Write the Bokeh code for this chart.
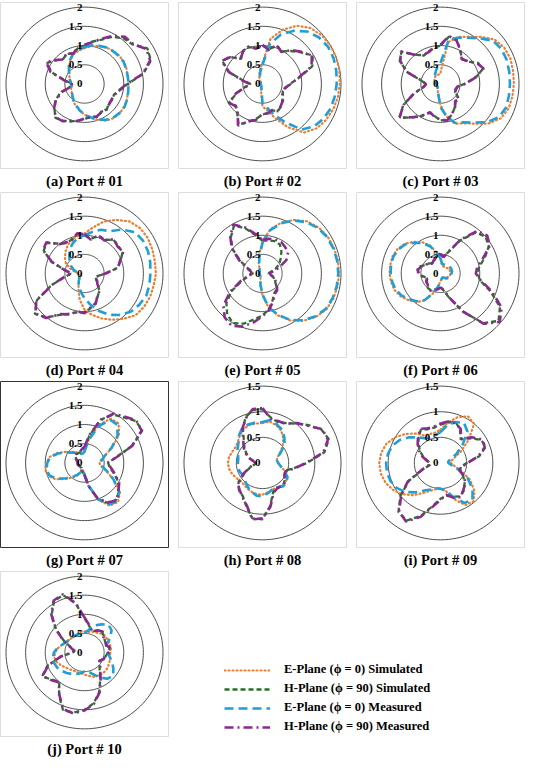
import numpy as np
from bokeh.plotting import figure
from bokeh.models import Legend, LegendItem, Range1d
from bokeh.layouts import column, row
from bokeh.embed import file_html
from bokeh.resources import INLINE
from bokeh.core.properties import value

# angles (degrees, clockwise from top) at which the patterns were read
ANGLES = list(range(0, 360, 10))

# ---- Port 01 ----
ES_a = [0.93,1.0,1.05,1.1,1.13,1.15,1.16,1.14,1.12,1.12,1.13,1.15,1.17,1.18,1.16,1.1,1.0,0.9,0.8,0.7,0.62,0.55,0.48,0.42,0.38,0.36,0.35,0.35,0.37,0.4,0.45,0.5,0.6,0.72,0.82,0.88]
EM_a = [0.96,1.02,1.06,1.1,1.12,1.14,1.15,1.13,1.12,1.12,1.13,1.16,1.18,1.17,1.14,1.08,0.98,0.88,0.8,0.7,0.6,0.53,0.46,0.41,0.37,0.35,0.34,0.34,0.36,0.41,0.46,0.52,0.62,0.73,0.84,0.9]
HS_a = [1.0,1.12,1.22,1.42,1.55,1.6,1.85,1.8,1.52,1.1,0.92,0.8,0.82,0.8,0.88,0.84,0.92,0.86,0.92,0.96,1.04,1.1,1.15,1.0,0.86,0.65,0.35,0.3,0.5,0.9,1.1,0.95,0.85,0.9,0.85,0.95]
HM_a = [1.02,1.1,1.25,1.45,1.6,1.62,1.82,1.78,1.5,1.08,0.9,0.82,0.8,0.82,0.86,0.86,0.9,0.88,0.9,0.98,1.02,1.12,1.13,1.02,0.84,0.62,0.33,0.32,0.52,0.92,1.12,0.97,0.83,0.92,0.84,0.97]
# ---- Port 02 ----
ES_b = [0.55,1.2,1.5,1.75,1.9,1.97,2.0,2.0,1.99,1.97,1.95,1.92,1.87,1.8,1.65,1.3,0.95,0.7,0.58,0.2,0.1,0.07,0.06,0.06,0.06,0.06,0.06,0.06,0.06,0.06,0.06,0.07,0.1,0.15,0.25,0.38]
EM_b = [0.5,1.05,1.37,1.6,1.78,1.88,1.93,1.93,1.91,1.89,1.87,1.85,1.8,1.72,1.55,1.15,0.85,0.62,0.5,0.15,0.08,0.06,0.05,0.05,0.05,0.05,0.05,0.05,0.05,0.05,0.05,0.06,0.08,0.12,0.2,0.32]
HS_b = [1.0,0.92,1.06,0.98,1.12,1.28,1.48,1.35,0.95,0.7,0.6,0.55,0.6,0.66,0.75,0.8,0.74,0.76,0.8,0.92,1.05,1.22,1.0,0.88,1.0,0.7,0.45,0.3,0.5,0.9,1.18,1.1,0.85,1.0,1.02,0.95]
HM_b = [1.02,0.9,1.08,0.96,1.15,1.3,1.45,1.33,0.93,0.72,0.58,0.57,0.58,0.68,0.73,0.82,0.72,0.78,0.78,0.95,1.03,1.25,0.98,0.9,0.98,0.72,0.43,0.32,0.52,0.92,1.2,1.08,0.87,0.98,1.04,0.93]
# ---- Port 03 ----
ES_c = [0.3,1.1,1.3,1.42,1.6,1.8,1.88,1.9,1.88,1.87,1.86,1.85,1.78,1.6,1.35,1.18,1.1,0.85,0.55,0.3,0.2,0.15,0.12,0.1,0.1,0.1,0.1,0.1,0.12,0.15,0.18,0.2,0.22,0.25,0.25,0.25]
EM_c = [0.55,1.12,1.28,1.39,1.55,1.75,1.8,1.8,1.78,1.77,1.77,1.78,1.72,1.55,1.31,1.15,1.08,0.85,0.6,0.3,0.18,0.14,0.12,0.1,0.1,0.1,0.1,0.1,0.1,0.12,0.14,0.18,0.22,0.28,0.35,0.45]
HS_c = [1.0,1.25,1.22,1.0,0.86,0.9,1.1,1.15,0.9,0.6,0.45,0.4,0.45,0.6,0.6,0.72,0.85,0.95,0.95,0.85,0.8,0.95,1.15,1.35,1.1,0.7,0.45,0.35,0.5,0.9,1.2,1.3,1.0,0.85,0.9,0.95]
HM_c = [1.02,1.27,1.2,1.02,0.84,0.92,1.08,1.17,0.88,0.62,0.43,0.42,0.43,0.62,0.58,0.74,0.83,0.97,0.93,0.87,0.78,0.97,1.13,1.37,1.08,0.72,0.43,0.37,0.48,0.92,1.18,1.32,0.98,0.87,0.88,0.97]
# ---- Port 04 ----
ES_d = [1.05,1.22,1.45,1.62,1.78,1.85,1.86,1.84,1.82,1.82,1.79,1.78,1.75,1.7,1.55,1.4,1.25,1.1,0.95,0.7,0.45,0.3,0.2,0.15,0.1,0.1,0.12,0.15,0.25,0.4,0.55,0.65,0.75,0.85,0.95,1.0]
EM_d = [1.0,1.1,1.22,1.28,1.5,1.68,1.72,1.72,1.7,1.68,1.68,1.68,1.62,1.55,1.42,1.25,1.04,0.82,0.65,0.5,0.38,0.3,0.22,0.18,0.15,0.15,0.15,0.15,0.2,0.3,0.4,0.5,0.6,0.75,0.85,0.95]
HS_d = [1.0,0.92,1.05,1.02,1.15,1.12,1.12,0.98,0.85,0.55,0.35,0.3,0.35,0.45,0.58,0.68,0.82,0.92,1.02,1.03,1.12,1.25,1.5,1.65,1.4,0.9,0.5,0.35,0.5,0.9,1.2,1.25,1.02,0.92,0.95,1.05]
HM_d = [1.03,0.9,1.07,1.0,1.17,1.1,1.14,0.96,0.87,0.53,0.37,0.28,0.37,0.43,0.6,0.66,0.84,0.9,1.04,1.01,1.14,1.23,1.52,1.63,1.42,0.88,0.52,0.33,0.52,0.88,1.22,1.27,1.0,0.94,0.93,1.07]
# ---- Port 05 ----
ES_e = [0.85,1.18,1.42,1.62,1.78,1.87,1.92,1.94,1.95,1.95,1.94,1.92,1.88,1.77,1.62,1.42,1.17,0.92,0.57,0.3,0.15,0.1,0.08,0.08,0.08,0.08,0.08,0.08,0.08,0.08,0.08,0.1,0.12,0.15,0.28,0.5]
EM_e = [0.8,1.15,1.4,1.6,1.75,1.85,1.9,1.92,1.93,1.93,1.92,1.9,1.86,1.75,1.6,1.4,1.15,0.9,0.55,0.3,0.15,0.1,0.08,0.08,0.08,0.08,0.08,0.08,0.08,0.08,0.08,0.1,0.12,0.15,0.25,0.45]
HS_e = [0.85,0.88,0.9,0.88,0.75,0.6,0.5,0.35,0.2,0.15,0.2,0.3,0.35,0.45,0.55,0.6,0.75,0.95,1.1,1.22,1.4,1.5,1.4,1.2,0.9,0.55,0.35,0.25,0.25,0.4,0.65,1.0,1.25,1.45,1.25,1.02]
HM_e = [0.88,0.92,0.95,0.95,0.9,0.85,0.7,0.45,0.25,0.18,0.22,0.32,0.38,0.48,0.58,0.62,0.78,0.97,1.12,1.3,1.48,1.58,1.5,1.3,0.95,0.6,0.38,0.28,0.3,0.42,0.68,1.02,1.28,1.48,1.28,1.05]
# ---- Port 06 ----
ES_f = [0.38,0.22,0.2,0.2,0.2,0.22,0.25,0.25,0.25,0.25,0.25,0.22,0.2,0.18,0.15,0.12,0.12,0.15,0.2,0.35,0.55,0.82,0.98,1.08,1.18,1.25,1.28,1.3,1.3,1.3,1.27,1.2,1.08,0.95,0.78,0.55]
EM_f = [0.4,0.25,0.25,0.25,0.28,0.28,0.3,0.3,0.3,0.28,0.28,0.27,0.25,0.2,0.15,0.12,0.12,0.15,0.2,0.35,0.55,0.8,0.95,1.05,1.15,1.22,1.25,1.27,1.28,1.28,1.25,1.18,1.05,0.92,0.75,0.55]
HS_f = [0.5,0.45,0.6,1.0,1.4,1.5,1.42,1.2,1.0,0.95,1.02,1.35,1.75,1.93,1.7,1.15,0.7,0.45,0.35,0.4,0.45,0.5,0.5,0.45,0.4,0.35,0.45,0.55,0.6,0.55,0.45,0.4,0.35,0.35,0.4,0.5]
HM_f = [0.52,0.43,0.62,1.02,1.45,1.55,1.45,1.15,0.95,0.9,1.04,1.4,1.8,1.97,1.72,1.15,0.68,0.43,0.37,0.42,0.47,0.52,0.48,0.43,0.42,0.37,0.47,0.57,0.58,0.53,0.43,0.42,0.33,0.37,0.42,0.48]
# ---- Port 07 ----
ES_g = [0.28,0.62,1.05,1.33,1.35,1.15,0.82,0.55,0.42,0.38,0.42,0.58,0.85,1.18,1.33,1.28,1.02,0.6,0.3,0.2,0.25,0.38,0.5,0.65,0.85,0.98,1.02,0.98,0.9,0.75,0.58,0.45,0.38,0.3,0.25,0.25]
EM_g = [0.3,0.6,1.0,1.3,1.3,1.1,0.8,0.55,0.45,0.4,0.45,0.6,0.85,1.15,1.3,1.25,1.0,0.6,0.3,0.2,0.25,0.35,0.48,0.62,0.82,0.95,0.98,0.95,0.88,0.72,0.55,0.42,0.35,0.3,0.25,0.25]
HS_g = [0.4,0.72,1.2,1.45,1.55,1.7,1.7,1.3,0.8,0.6,0.65,0.8,1.0,1.15,1.25,1.2,1.0,0.6,0.3,0.25,0.2,0.15,0.15,0.15,0.15,0.15,0.15,0.15,0.15,0.2,0.25,0.3,0.3,0.3,0.3,0.35]
HM_g = [0.42,0.75,1.18,1.48,1.58,1.72,1.68,1.28,0.82,0.58,0.68,0.82,1.02,1.13,1.28,1.18,0.98,0.62,0.32,0.27,0.22,0.17,0.16,0.15,0.16,0.17,0.18,0.18,0.18,0.22,0.27,0.32,0.32,0.3,0.32,0.37]
# ---- Port 08 ----
ES_h = [0.78,0.82,0.78,0.72,0.62,0.5,0.38,0.3,0.28,0.3,0.35,0.45,0.55,0.58,0.58,0.55,0.55,0.58,0.62,0.62,0.6,0.58,0.55,0.55,0.58,0.62,0.65,0.66,0.65,0.62,0.6,0.62,0.68,0.75,0.78,0.78]
EM_h = [0.8,0.85,0.8,0.75,0.65,0.55,0.4,0.3,0.28,0.3,0.35,0.45,0.55,0.6,0.6,0.55,0.55,0.6,0.65,0.65,0.6,0.55,0.5,0.45,0.45,0.47,0.47,0.47,0.47,0.5,0.55,0.6,0.7,0.78,0.8,0.8]
HS_h = [1.05,0.9,0.85,0.9,1.0,1.15,1.3,1.35,1.2,0.85,0.6,0.45,0.5,0.55,0.6,0.55,0.6,0.85,1.1,1.1,0.9,0.75,0.7,0.6,0.4,0.25,0.15,0.12,0.15,0.25,0.35,0.45,0.55,0.75,0.95,1.05]
HM_h = [1.07,0.88,0.87,0.88,1.02,1.13,1.32,1.33,1.18,0.83,0.62,0.47,0.48,0.57,0.58,0.57,0.62,0.87,1.08,1.12,0.88,0.77,0.68,0.62,0.42,0.27,0.17,0.13,0.17,0.27,0.37,0.47,0.57,0.77,0.93,1.07]
# ---- Port 09 ----
ES_i = [0.65,0.8,0.95,1.05,1.0,0.7,0.45,0.28,0.2,0.2,0.25,0.4,0.65,0.85,0.98,0.95,0.75,0.55,0.5,0.52,0.58,0.68,0.82,0.95,1.05,1.12,1.16,1.17,1.15,1.1,1.0,0.88,0.75,0.62,0.6,0.6]
EM_i = [0.6,0.75,0.85,0.9,0.8,0.55,0.35,0.2,0.15,0.15,0.2,0.35,0.6,0.8,0.95,0.9,0.7,0.55,0.5,0.5,0.55,0.62,0.75,0.88,0.97,1.02,1.04,1.04,1.02,0.98,0.9,0.78,0.65,0.55,0.55,0.55]
HS_i = [0.75,0.8,0.85,0.75,0.6,0.75,0.9,0.92,0.75,0.5,0.4,0.4,0.5,0.6,0.7,0.75,0.7,0.65,0.7,0.85,1.1,1.3,1.25,1.0,0.7,0.35,0.2,0.2,0.25,0.35,0.45,0.55,0.65,0.75,0.7,0.7]
HM_i = [0.77,0.82,0.83,0.77,0.62,0.78,0.92,0.9,0.73,0.52,0.42,0.38,0.52,0.62,0.68,0.77,0.72,0.63,0.72,0.87,1.12,1.32,1.23,0.98,0.72,0.37,0.22,0.2,0.27,0.37,0.47,0.57,0.67,0.77,0.72,0.72]
# ---- Port 10 ----
ES_j = [0.55,0.55,0.58,0.6,0.65,0.68,0.68,0.68,0.68,0.66,0.66,0.68,0.7,0.72,0.72,0.7,0.68,0.62,0.58,0.55,0.55,0.55,0.58,0.62,0.68,0.75,0.78,0.75,0.68,0.6,0.55,0.52,0.5,0.5,0.52,0.55]
EM_j = [0.5,0.6,0.75,0.85,0.95,0.9,0.75,0.6,0.55,0.6,0.65,0.75,0.85,0.95,0.9,0.75,0.6,0.5,0.5,0.55,0.6,0.65,0.7,0.75,0.8,0.82,0.82,0.78,0.7,0.6,0.55,0.5,0.5,0.5,0.5,0.5]
HS_j = [0.9,0.7,0.6,0.65,0.7,0.65,0.6,0.6,0.65,0.6,0.55,0.5,0.45,0.5,0.6,0.8,1.1,1.35,1.5,1.6,1.6,1.3,1.0,1.1,1.25,1.0,0.6,0.3,0.25,0.35,0.6,0.95,1.3,1.55,1.6,1.3]
HM_j = [0.92,0.72,0.58,0.67,0.72,0.63,0.62,0.58,0.67,0.62,0.53,0.52,0.43,0.52,0.62,0.82,1.12,1.37,1.52,1.62,1.58,1.28,1.02,1.12,1.23,0.98,0.62,0.32,0.27,0.37,0.62,0.97,1.32,1.57,1.62,1.32]

CAPTIONS = ["(a) Port # 01", "(b) Port # 02", "(c) Port # 03", "(d) Port # 04", "(e) Port # 05",
            "(f) Port # 06", "(g) Port # 07", "(h) Port # 08", "(i) Port # 09", "(j) Port # 10"]
RMAX = [2, 2, 2, 2, 2, 2, 2, 1.5, 1.5, 2]
RING_TICKS = [0, 0.5, 1, 1.5, 2]
RING_LABELS = ["0", "0.5", "1", "1.5", "2"]

SERIES_NAMES = ["E-Plane (\u03d5 = 0) Simulated", "H-Plane (\u03d5 = 90) Simulated",
                "E-Plane (\u03d5 = 0) Measured", "H-Plane (\u03d5 = 90) Measured"]

DATA = [(ES_a, HS_a, EM_a, HM_a), (ES_b, HS_b, EM_b, HM_b), (ES_c, HS_c, EM_c, HM_c),
        (ES_d, HS_d, EM_d, HM_d), (ES_e, HS_e, EM_e, HM_e), (ES_f, HS_f, EM_f, HM_f),
        (ES_g, HS_g, EM_g, HM_g), (ES_h, HS_h, EM_h, HM_h), (ES_i, HS_i, EM_i, HM_i),
        (ES_j, HS_j, EM_j, HM_j)]

STYLES = [
    dict(line_color="#ED7D31", line_dash="1 3", line_width=2.2, line_cap="round"),
    dict(line_color="#267326", line_dash="5 3", line_width=2.3),
    dict(line_color="#1F9FD8", line_dash="9 5", line_width=2.6),
    dict(line_color="#8B2A8E", line_dash="9 4 2 4", line_width=2.6),
]

SERIF = "Liberation Serif"
ROW_HEIGHTS = [190, 189, 190, 189]


def to_xy(vals):
    th = np.radians(np.array(ANGLES + [ANGLES[0]], dtype=float))
    r = np.array(list(vals) + [vals[0]], dtype=float)
    return r * np.sin(th), r * np.cos(th)


def make_panel(caption, rmax, series, height, dark=False):
    p = figure(width=178, height=height, output_backend="svg", toolbar_location=None,
               x_range=(-1.07 * rmax, 1.07 * rmax), y_range=(-1.1 * rmax, 1.06 * rmax),
               x_axis_type=None, y_axis_type=None, title=caption, title_location="below",
               min_border_left=0, min_border_right=10, min_border_top=2, min_border_bottom=0)
    p.grid.visible = False
    p.outline_line_color = "#333333" if dark else "#dddddd"
    p.outline_line_width = 1
    p.title.align = "center"
    p.title.text_font = SERIF
    p.title.text_font_style = "bold"
    p.title.text_font_size = "14.5px"
    p.title.text_color = "black"
    p.title.standoff = 4

    ticks = [t for t in RING_TICKS if t <= rmax]
    labels = [l for t, l in zip(RING_TICKS, RING_LABELS) if t <= rmax]
    th = np.radians(np.arange(0, 361, 3))
    xs = [list(t * np.sin(th)) for t in ticks if t > 0]
    ys = [list(t * np.cos(th)) for t in ticks if t > 0]
    p.multi_line(xs, ys, line_color="#3a3a3a", line_width=0.9)

    for vals, st in zip(series, STYLES):
        x, y = to_xy(vals)
        p.line(x, y, **st)

    p.text(x=[0] * len(ticks), y=ticks, text=labels, text_align="right", text_baseline="middle",
           x_offset=-2, text_font=value(SERIF), text_font_style="bold", text_font_size="11px",
           text_color="black")
    return p


panels = []
for i, (cap, rm, ser) in enumerate(zip(CAPTIONS, RMAX, DATA)):
    panels.append(make_panel(cap, rm, ser, ROW_HEIGHTS[min(i // 3, 3)], dark=(i == 6)))

# legend-only figure: the sample renderers hold points outside its visible range
lg = figure(width=356, height=ROW_HEIGHTS[3], output_backend="svg", toolbar_location=None,
            x_range=Range1d(0, 1), y_range=Range1d(0, 1),
            x_axis_type=None, y_axis_type=None, min_border=0)
lg.grid.visible = False
lg.outline_line_color = None
rends = [lg.line(x=[5, 6], y=[5, 6], **st) for st in STYLES]
legend = Legend(items=[LegendItem(label=n, renderers=[r]) for n, r in zip(SERIES_NAMES, rends)],
                location=(46, 2), glyph_width=46, glyph_height=12, label_height=12,
                spacing=4, padding=3, margin=0, label_standoff=14,
                label_text_font=SERIF, label_text_font_style="bold", label_text_font_size="12.5px",
                label_text_line_height=1.0, label_text_color="black",
                border_line_color=None, background_fill_alpha=0)
lg.add_layout(legend)

layout = column(row(*panels[0:3]), row(*panels[3:6]), row(*panels[6:9]), row(panels[9], lg))

open("out.html", "w").write(file_html(layout, INLINE))
